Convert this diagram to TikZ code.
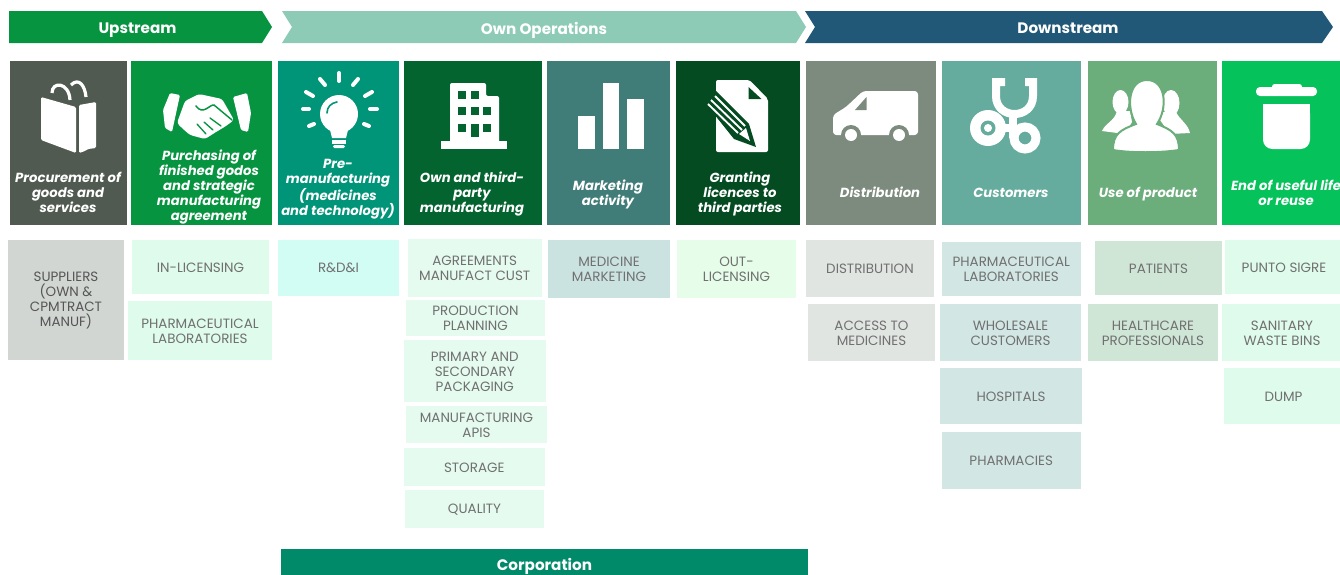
\documentclass[tikz,border=0pt]{standalone}
\usepackage{fontspec}
\setmainfont{Poppins}
\definecolor{upcol}{HTML}{069440}
\definecolor{owncol}{HTML}{8DCBB7}
\definecolor{downcol}{HTML}{215877}
\definecolor{corpcol}{HTML}{008A69}
\definecolor{tileA}{HTML}{505A50}
\definecolor{tileB}{HTML}{069440}
\definecolor{tileC}{HTML}{009478}
\definecolor{tileD}{HTML}{04642F}
\definecolor{tileE}{HTML}{417D78}
\definecolor{tileF}{HTML}{044B22}
\definecolor{tileG}{HTML}{7C8B7D}
\definecolor{tileH}{HTML}{65AC9E}
\definecolor{tileI}{HTML}{6CAD7C}
\definecolor{tileJ}{HTML}{05C25A}
\definecolor{lowA}{HTML}{D2D6D3}
\definecolor{lowB}{HTML}{DFFBEC}
\definecolor{lowC}{HTML}{D2FDF4}
\definecolor{lowD}{HTML}{E5FBF0}
\definecolor{lowE}{HTML}{CBE3E0}
\definecolor{lowF}{HTML}{E6FDE9}
\definecolor{lowG}{HTML}{E1E5E2}
\definecolor{lowH}{HTML}{D2E7E4}
\definecolor{lowI}{HTML}{CFE6D7}
\definecolor{lowtext}{HTML}{707070}
\definecolor{supptext}{HTML}{555555}
\tikzset{
    headlabel/.style={text=white, font=\fontsize{11.4}{13}\selectfont\bfseries},
    tilebox/.style={inner sep=0pt, outer sep=0pt},
    tilelabel/.style={text=white, align=center, inner sep=0pt, font=\fontsize{9.9}{11.25}\selectfont\bfseries\itshape},
    lowbox/.style={inner sep=0pt, outer sep=0pt},
    lowlabel/.style={align=center, inner sep=0pt, text=lowtext, font=\fontsize{10.1}{11.25}\selectfont},
    icon/.style={fill=white, draw=none},
}
\begin{document}
\begin{tikzpicture}[x=0.75pt, y=-0.75pt]
    \useasboundingbox (0, 0) rectangle (1340, 575);
    \clip (0, 0) rectangle (1340, 575);

    % phase bands
    \fill[upcol] (9, 11) -- (262, 11) -- (272, 27) -- (262, 43) -- (9, 43) -- cycle;
    \fill[owncol] (282, 11) -- (796, 11) -- (806, 27) -- (796, 43) -- (282, 43) -- (292, 27) -- cycle;
    \fill[downcol] (805, 11) -- (1322, 11) -- (1333, 27) -- (1322, 43) -- (805, 43) -- (815, 27) -- cycle;
    \node[headlabel] (upstream) at (137.5, 30) {Upstream};
    \node[headlabel] (ownops) at (544, 30) {Own Operations};
    \node[headlabel] (downstream) at (1068, 28.5) {Downstream};
    \fill[corpcol] (281, 549) rectangle (808, 576);
    \node[headlabel] (corporation) at (544.5, 566.5) {Corporation};

    % top tiles
    \foreach \nm/\xa/\xb/\col in {procure/10/127/tileA, purchase/131/272/tileB, premanuf/278/399/tileC,
        ownmanuf/403.5/542/tileD, marketing/547/670/tileE, granting/676/799.5/tileF,
        distrib/806/936/tileG, customers/942/1081/tileH, useprod/1088/1217/tileI, endlife/1222/1342/tileJ} {
        \node[tilebox, fill=\col, minimum width={(\xb-\xa)*0.75pt}, minimum height={164*0.75pt}] (\nm) at ({(\xa+\xb)/2}, 143) {};
    }
    \foreach \nm/\xc/\yc/\txt in {procure/68/192.5/{Procurement of\\goods and\\services},
        purchase/209/187.5/{Purchasing of\\finished godos\\and strategic\\manufacturing\\agreement},
        premanuf/338/189.5/{Pre-\\manufacturing\\(medicines\\and technology)},
        ownmanuf/472/194/{Own and third-\\party\\manufacturing},
        marketing/608/194/{Marketing\\activity},
        granting/740/194/{Granting\\licences to\\third parties},
        distrib/880/192.5/{Distribution},
        customers/1011/193/{Customers},
        useprod/1148/194.5/{Use of product},
        endlife/1286/192.5/{End of useful life\\or reuse}} {
        \node[tilelabel] (\nm-label) at (\xc, \yc) {\txt};
    }

    % lower boxes
    \foreach \nm/\xa/\ya/\xb/\yb/\col/\txt in {suppliers/8/240/124/360/lowA/{\color{supptext}SUPPLIERS\\\color{supptext}(OWN \&\\\color{supptext}CPMTRACT\\\color{supptext}MANUF)},
        inlic/132/240/269/294/lowB/{IN-LICENSING},
        pharmA/128/301/272/360/lowB/{PHARMACEUTICAL\\LABORATORIES},
        rdi/278/240/399/295.5/lowC/{R\&D\&I},
        agreements/407.5/239/542/297/lowD/{AGREEMENTS\\MANUFACT CUST},
        planning/406/300/545/336/lowD/{PRODUCTION\\PLANNING},
        packaging/403.5/340/546/402/lowD/{PRIMARY AND\\SECONDARY\\PACKAGING},
        apis/406/406/547/443/lowD/{MANUFACTURING\\APIS},
        storage/403.5/448/545/486/lowD/{STORAGE},
        quality/405/490/544/528/lowD/{QUALITY},
        medmkt/548/240/670/298/lowE/{MEDICINE\\MARKETING},
        outlic/677/240/796/298/lowF/{OUT-\\LICENSING},
        distbox/806/240/934/297/lowG/{DISTRIBUTION},
        access/808/304/935/361/lowG/{ACCESS TO\\MEDICINES},
        pharmB/941.5/242/1081/296/lowH/{PHARMACEUTICAL\\LABORATORIES},
        wholesale/940/304/1081/361/lowH/{WHOLESALE\\CUSTOMERS},
        hospitals/940/368/1082/424/lowH/{HOSPITALS},
        pharmacies/941.5/432/1081/489/lowH/{PHARMACIES},
        patients/1095/241/1222/295/lowI/{PATIENTS},
        healthcare/1088/304/1218/361/lowI/{HEALTHCARE\\PROFESSIONALS},
        punto/1225/240/1343/294/lowB/{PUNTO SIGRE},
        sanitary/1222/304/1342/361/lowB/{SANITARY\\WASTE BINS},
        dump/1224/368/1343/424/lowB/{DUMP}} {
        \node[lowbox, fill=\col, minimum width={(\xb-\xa)*0.75pt}, minimum height={(\yb-\ya)*0.75pt}] (\nm) at ({(\xa+\xb)/2}, {(\ya+\yb)/2}) {};
        \node[lowlabel] (\nm-label) at ([yshift=-0.4pt]\nm.center) {\txt};
    }

    % icon: bag
    \fill[icon, rounded corners=1pt] (41, 97) -- (76, 107) -- (76, 153) -- (41, 140) -- cycle;
    \fill[icon, rounded corners=1pt] (79, 105) -- (96, 102) -- (96, 148) -- (88, 149) -- (85, 151) -- (79, 153) -- cycle;
    \draw[white, line width=2.4pt] (52, 93) .. controls (52, 81) and (69, 82) .. (70, 100);
    \draw[white, line width=2.4pt] (71, 85) .. controls (79, 77) and (85, 86) .. (86, 97);

    % icon: handshake
    \fill[icon, rounded corners=1pt] (170, 93) -- (180, 95) -- (172, 132) -- (165, 128) -- (163, 110) -- cycle;
    \fill[icon, rounded corners=1pt] (233, 97) -- (247, 93) -- (251, 113) -- (248, 132) -- (241, 130) -- cycle;
    \fill[icon, rounded corners=2pt] (199, 94) -- (222, 99) -- (234, 120) -- (226, 126) -- (216, 132) -- (205, 139) -- (190, 135) -- (183, 129) -- (177, 123) -- (185, 101) -- cycle;
    \draw[tileB, line width=1.1pt, line cap=round] (196, 106) .. controls (203, 116) and (210, 104) .. (214, 105) -- (232, 120);
    \draw[tileB, line width=1pt, line cap=round] (197, 124) -- (206, 134) (204, 122) -- (213, 130) (210, 118) -- (221, 126);

    % icon: bulb
    \fill[icon] (339, 114) circle[radius=19];
    \fill[icon] (329, 126) -- (349, 126) -- (346, 138) -- (332, 138) -- cycle;
    \fill[icon] (332, 140) rectangle (346, 143.5);
    \fill[icon, rounded corners=1pt] (333, 145) rectangle (345, 148);
    \draw[tileC, line width=1.2pt, line cap=round] (327, 113) .. controls (327, 107) and (331, 103) .. (337, 102);
    \foreach \xa/\ya/\xb/\yb in {339/73/339/81, 320/79/325/85, 358/79/353/85, 306/92/313/96, 372/92/365/96, 303/109/309/109, 370/109/377/109, 309/126/314/124, 369/126/364/124} {
        \draw[white, line width=3pt, line cap=round] (\xa, \ya) -- (\xb, \yb);
    }

    % icon: building
    \fill[icon] (441, 141) rectangle (507, 149);
    \fill[icon, rounded corners=1.5pt] (450, 145) -- (450, 83) -- (486, 83) -- (486, 96) -- (499, 96) -- (499, 145) -- cycle;
    \foreach \wx in {458, 471} { \fill[tileD] (\wx, 91) rectangle ++(8, 8); }
    \foreach \wx in {458, 471, 483} { \fill[tileD] (\wx, 107) rectangle ++(8, 8); }
    \fill[tileD] (458, 124) rectangle ++(8, 8);
    \fill[tileD] (471, 124) rectangle ++(8, 13);
    \fill[tileD] (483, 124) rectangle ++(8, 8);

    % icon: bars
    \fill[icon] (578, 116) rectangle (594.5, 149);
    \fill[icon] (602.5, 83) rectangle (619, 149);
    \fill[icon] (627, 99) rectangle (644, 149);

    % icon: document and pencil
    \fill[icon, rounded corners=1.5pt] (716, 80) -- (749.5, 80) -- (768, 99) -- (768, 152) -- (716, 152) -- cycle;
    \fill[tileF] (748.5, 87) -- (748.5, 99) -- (761.5, 99) -- cycle;
    \fill[tileF] (706, 104) -- (716, 91) -- (749, 124) -- (756, 147) -- (734, 139) -- cycle;
    \draw[white, line width=1.4pt] (708, 104) -- (738, 133);
    \draw[white, line width=1.4pt] (711, 100) -- (742, 130);
    \draw[white, line width=1.4pt] (715, 96) -- (745, 126);
    \fill[icon] (739, 134) -- (746, 128) -- (750, 141) -- cycle;

    % icon: van
    \fill[icon, rounded corners=2.5pt] (833, 135) -- (833, 115) -- (846, 107) -- (863, 91) -- (918, 91) -- (918, 135) -- cycle;
    \fill[tileG] (866.5, 97) -- (866.5, 110) -- (855, 110) -- cycle;
    \foreach \wx in {851, 899} {
        \fill[tileG] (\wx, 135) circle[radius=10];
        \fill[icon] (\wx, 135) circle[radius=6];
    }

    % icon: stethoscope
    \draw[white, line width=6pt] (1005, 82) -- (996, 82) -- (996, 96) .. controls (996, 120) and (1033, 120) .. (1033, 96) -- (1033, 82) -- (1025, 82);
    \draw[white, line width=6pt] (1013, 112) -- (1013, 138);
    \draw[white, line width=6.75pt] (1025, 138) circle[radius=11];
    \fill[icon] (988, 128) circle[radius=18];
    \fill[tileH] (988, 128) circle[radius=7.5];
    \fill[icon] (988, 128) circle[radius=4];
    \draw[white, line width=6pt] (1000, 128) -- (1013, 128);

    % icon: people
    \fill[icon] (1120.5, 102) ellipse[x radius=8, y radius=12];
    \fill[icon] (1102, 131) .. controls (1106, 122) and (1114, 122) .. (1117, 111) -- (1130, 111) -- (1132, 122) -- (1125, 134) -- cycle;
    \fill[icon] (1171, 103) ellipse[x radius=8.5, y radius=13];
    \fill[icon] (1190, 133) .. controls (1188, 124) and (1180, 120) .. (1176, 112) -- (1162, 112) -- (1160, 120) -- (1170, 134) -- cycle;
    \draw[tileI, line width=1.5pt, fill=white] (1113, 150) .. controls (1113, 134) and (1120, 130) .. (1136, 124) .. controls (1126, 108) and (1128, 80) .. (1147, 80) .. controls (1166, 80) and (1168, 108) .. (1157, 124) .. controls (1172, 130) and (1179, 134) .. (1179, 150) .. controls (1160, 153) and (1130, 153) .. (1113, 150) -- cycle;

    % icon: bin
    \fill[icon, rounded corners=3pt] (1256, 87) rectangle (1317, 96);
    \fill[icon, rounded corners=2pt] (1272, 84) rectangle (1302, 90);
    \fill[icon, rounded corners=7pt] (1263, 104) -- (1310, 104) -- (1310, 149) -- (1263, 149) -- cycle;
    \fill[icon] (1263, 104) rectangle (1310, 115);
\end{tikzpicture}
\end{document}
